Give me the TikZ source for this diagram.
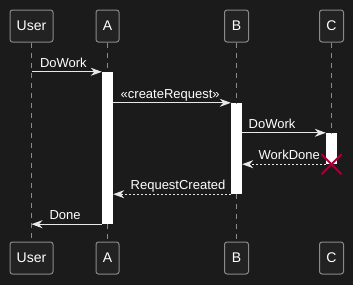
\documentclass[tikz,border=0pt]{standalone}
\usepackage{fontspec}
\setmainfont{Liberation Sans}
\usetikzlibrary{arrows.meta}
\definecolor{bgcol}{HTML}{1B1B1B}
\definecolor{boxfill}{HTML}{222222}
\definecolor{boxline}{HTML}{8A8A8A}
\definecolor{msgcol}{HTML}{E8E8E8}
\definecolor{killcol}{HTML}{A80036}
\begin{document}
\begin{tikzpicture}[x=1pt, y=-1pt,
  part/.style={draw=boxline, line width=1pt, fill=boxfill, rounded corners=2.5pt, minimum height=32pt,
    minimum width=24pt, inner sep=0pt, text=white, font=\fontsize{14}{16}\selectfont},
  life/.style={draw=boxline, line width=1pt, dash pattern=on 5pt off 5pt},
  act/.style={fill=white, inner sep=0pt, minimum width=11pt},
  msg/.style={draw=msgcol, line width=1pt, -{Stealth[length=11pt,width=8pt,inset=3.5pt]}},
  ret/.style={msg, dash pattern=on 2pt off 2pt},
  lbl/.style={text=white, inner sep=0pt, anchor=base west, font=\fontsize{13}{15}\selectfont}]
  % Background
  \fill[bgcol] (0,0) rectangle (353,285);
  \useasboundingbox (0,0) rectangle (353,285);

  % Participants
  \node[part, minimum width=43pt] (userT) at (31.5,26) {User};
  \node[part, minimum width=23pt] (aT) at (107.5,26) {A};
  \node[part] (bT) at (236.5,26) {B};
  \node[part] (cT) at (331.5,26) {C};
  \node[part, minimum width=43pt] (userB) at (31.5,258) {User};
  \node[part, minimum width=23pt] (aB) at (107.5,258) {A};
  \node[part] (bB) at (236.5,258) {B};
  \node[part] (cB) at (331.5,258) {C};

  % Activations
  \node[act, minimum height=152pt] (actA) at (107.5,148) {};
  \node[act, minimum height=91pt] (actB) at (236.5,148.5) {};
  \node[act, minimum height=31pt] (actC) at (331.5,148.5) {};
  \coordinate (kill) at (actC.south);

  % Lifelines
  \draw[life] (userT) -- (userB);
  \draw[life] (aT) -- (actA.north);
  \draw[life] (actA.south) -- (aB);
  \draw[life] (bT) -- (actB.north);
  \draw[life] (actB.south) -- (bB);
  \draw[life] (cT) -- (actC.north);

  % Calls
  \draw[msg] (userT |- actA.north) -- (actA.north west)
    node[lbl, pos=0, xshift=8pt, yshift=4.5pt] {DoWork};
  \draw[msg] (actA.east |- actB.north) -- (actB.north west)
    node[lbl, pos=0, xshift=7pt, yshift=4.5pt] {«createRequest»};
  \draw[msg] (actB.east |- actC.north) -- (actC.north west)
    node[lbl, pos=0, xshift=6pt, yshift=4.5pt] {DoWork};

  % Returns
  \draw[ret] (actC.south west) -- (actB.east |- actC.south)
    node[lbl, pos=1, xshift=16pt, yshift=4.5pt] {WorkDone};
  \draw[ret] (actB.south west) -- (actA.east |- actB.south)
    node[lbl, pos=1, xshift=17pt, yshift=4.5pt] {RequestCreated};
  \draw[msg] (actA.south west) -- (userT |- actA.south)
    node[lbl, pos=1, xshift=17.5pt, yshift=4.5pt] {Done};

  % Destroy C
  \draw[killcol, line width=2pt] ([shift={(-10,-10)}]kill) -- ([shift={(10,10)}]kill);
  \draw[killcol, line width=2pt] ([shift={(-10,10)}]kill) -- ([shift={(10,-10)}]kill);
\end{tikzpicture}
\end{document}
